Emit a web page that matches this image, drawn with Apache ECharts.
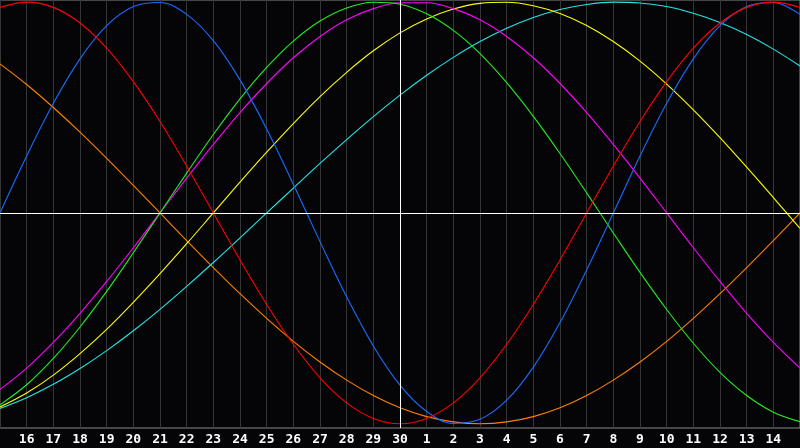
<!DOCTYPE html>
<html>
<head>
<meta charset="utf-8">
<script src="https://cdn.jsdelivr.net/npm/echarts@6/dist/echarts.min.js"></script>
<style>html,body{margin:0;padding:0;background:#050508;}#c{width:800px;height:448px;}</style>
</head>
<body>
<div id="c"></div>
<script>
var days = ['15','16','17','18','19','20','21','22','23','24','25','26','27','28','29','30','1','2','3','4','5','6','7','8','9','10','11','12','13','14','15'];
var todayIndex = 15;
var red = [97.5,100,97.5,90.1,78.2,62.3,43.4,22.3,0,-22.3,-43.4,-62.3,-78.2,-90.1,-97.5,-100,-97.5,-90.1,-78.2,-62.3,-43.4,-22.3,0,22.3,43.4,62.3,78.2,90.1,97.5,100,97.5];
var blue = [0,27.0,52.0,73.1,88.8,97.9,99.8,94.2,81.7,63.1,39.8,13.6,-13.6,-39.8,-63.1,-81.7,-94.2,-99.8,-97.9,-88.8,-73.1,-52.0,-27.0,0,27.0,52.0,73.1,88.8,97.9,99.8,94.2];
var orange = [70.7,60.9,50,38.3,25.9,13.1,0,-13.1,-25.9,-38.3,-50,-60.9,-70.7,-79.3,-86.6,-92.4,-96.6,-99.1,-100,-99.1,-96.6,-92.4,-86.6,-79.3,-70.7,-60.9,-50,-38.3,-25.9,-13.1,0];
var green = [-91.0,-81.5,-69.0,-54.1,-37.2,-18.9,0,18.9,37.2,54.1,69.0,81.5,91.0,97.2,99.9,99.0,94.5,86.6,75.6,61.8,45.8,28.2,9.5,-9.5,-28.2,-45.8,-61.8,-75.6,-86.6,-94.5,-99.0];
var magenta = [-83.7,-73.6,-61.4,-47.6,-32.5,-16.5,0,16.5,32.5,47.6,61.4,73.6,83.7,91.6,96.9,99.7,99.7,96.9,91.6,83.7,73.6,61.4,47.6,32.5,16.5,0,-16.5,-32.5,-47.6,-61.4,-73.6];
var yellow = [-92.0,-85.4,-76.9,-66.7,-55.2,-42.4,-28.8,-14.6,0,14.6,28.8,42.4,55.2,66.7,76.9,85.4,92.0,96.7,99.4,99.9,98.3,94.6,88.9,81.3,72.0,61.1,48.9,35.7,21.7,7.3,-7.3];
var cyan = [-92.7,-87.6,-81.3,-73.8,-65.3,-55.9,-45.7,-34.8,-23.5,-11.8,0,11.8,23.5,34.8,45.7,55.9,65.3,73.8,81.3,87.6,92.7,96.5,98.9,100,99.6,97.9,94.7,90.3,84.6,77.7,69.7];

var seriesDefs = [
  {name:'orange', data:orange, color:'#ff8000'},
  {name:'cyan', data:cyan, color:'#22e6e6'},
  {name:'yellow', data:yellow, color:'#ffff00'},
  {name:'magenta', data:magenta, color:'#ff00ff'},
  {name:'green', data:green, color:'#22ee22'},
  {name:'blue', data:blue, color:'#1a6cff'},
  {name:'red', data:red, color:'#ff0000'}
];

var chart = echarts.init(document.getElementById('c'), null, {renderer:'canvas'});
var series = seriesDefs.map(function(s){
  return {name:s.name, type:'line', data:s.data, smooth:0.35, symbol:'none',
    lineStyle:{color:s.color, width:1.1}, itemStyle:{color:s.color}, animation:false, z:3};
});
series.push({
  type:'line', data:[], symbol:'none', animation:false, z:2,
  markLine:{silent:true, symbol:'none', label:{show:false},
    lineStyle:{color:'#ffffff', width:1, type:'solid'},
    data:[{xAxis:todayIndex},{yAxis:0}]}
});
chart.setOption({
  backgroundColor:'#050508',
  animation:false,
  grid:{left:0, right:0, top:0, bottom:20, show:true, borderColor:'#8a8a8a', borderWidth:1, backgroundColor:'#050508'},
  xAxis:{type:'category', data:days, boundaryGap:false,
    axisLine:{show:true, lineStyle:{color:'#8a8a8a', width:1}},
    axisTick:{show:false},
    splitLine:{show:true, interval:0, lineStyle:{color:'#363636', width:1}},
    axisLabel:{interval:function(i){return i>0 && i<30;}, color:'#ffffff', fontFamily:'DejaVu Sans Mono', fontWeight:'bold', fontSize:13, margin:5}
  },
  yAxis:{type:'value', min:-102, max:101, show:true,
    axisLine:{show:false}, axisTick:{show:false}, axisLabel:{show:false}, splitLine:{show:false}},
  series:series
});
</script>
</body>
</html>
